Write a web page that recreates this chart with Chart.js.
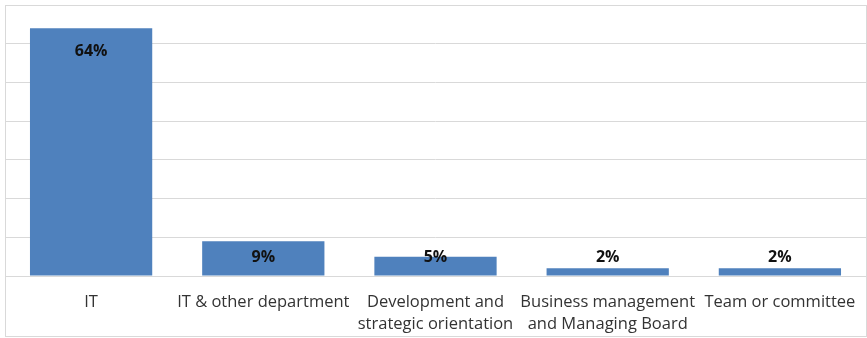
<!DOCTYPE html>
<html>
<head>
<meta charset="utf-8">
<script src="https://cdn.jsdelivr.net/npm/chart.js@4"></script>
<style>
  html, body { margin: 0; padding: 0; background: #fff; }
  #wrap { width: 867px; height: 338px; }
</style>
</head>
<body>
<div id="wrap"><canvas id="deptChart" width="867" height="338"></canvas></div>
<script>
const categories = [
  'IT',
  'IT & other department',
  ['Development and', 'strategic orientation'],
  ['Business management', 'and Managing Board'],
  'Team or committee'
]
const shares = [64, 9, 5, 2, 2]
const yTicks = [0, 10, 20, 30, 40, 50, 60, 70]

// percentage labels inside the top of each bar, pushed up for the short ones
const barLabels = {
  id: 'barLabels',
  afterDatasetsDraw(chart) {
    const ctx = chart.ctx
    const base = chart.scales.y.getPixelForValue(0)
    ctx.save()
    ctx.font = 'bold 16px "Open Sans"'
    ctx.fillStyle = '#111'
    ctx.textAlign = 'center'
    ctx.textBaseline = 'middle'
    chart.getDatasetMeta(0).data.forEach((bar, i) => {
      const y = Math.min(bar.y + 23, base - 19)
      ctx.fillText(shares[i] + '%', bar.x, y)
    })
    ctx.restore()
  }
}

// thin frame round the whole chart
const frame = {
  id: 'frame',
  afterDraw(chart) {
    const ctx = chart.ctx
    ctx.save()
    ctx.strokeStyle = '#d9d9d9'
    ctx.lineWidth = 1
    ctx.strokeRect(5.5, 5.5, 861, 331)
    ctx.restore()
  }
}

new Chart(document.getElementById('deptChart'), {
  type: 'bar',
  data: {
    labels: categories,
    datasets: [{
      data: shares,
      backgroundColor: '#4f81bd',
      categoryPercentage: 0.71,
      barPercentage: 1
    }]
  },
  options: {
    responsive: false,
    animation: false,
    layout: { padding: { left: 5, right: 1, top: 5, bottom: 0 } },
    plugins: {
      legend: { display: false },
      tooltip: { enabled: false }
    },
    scales: {
      x: {
        grid: { display: false },
        border: { color: '#d9d9d9' },
        ticks: {
          color: '#333',
          font: { family: 'Open Sans', size: 16.5, lineHeight: 1.35 },
          padding: 7,
          maxRotation: 0,
          autoSkip: false
        },
        afterFit(scale) { scale.height = 62 }
      },
      y: {
        min: yTicks[0],
        max: yTicks[yTicks.length - 1],
        afterBuildTicks(scale) { scale.ticks = yTicks.map(v => ({ value: v })) },
        grid: { color: '#d9d9d9', drawTicks: false },
        border: { display: false },
        ticks: { display: false },
        afterFit(scale) { scale.width = 0 }
      }
    }
  },
  plugins: [barLabels, frame]
})
</script>
</body>
</html>
